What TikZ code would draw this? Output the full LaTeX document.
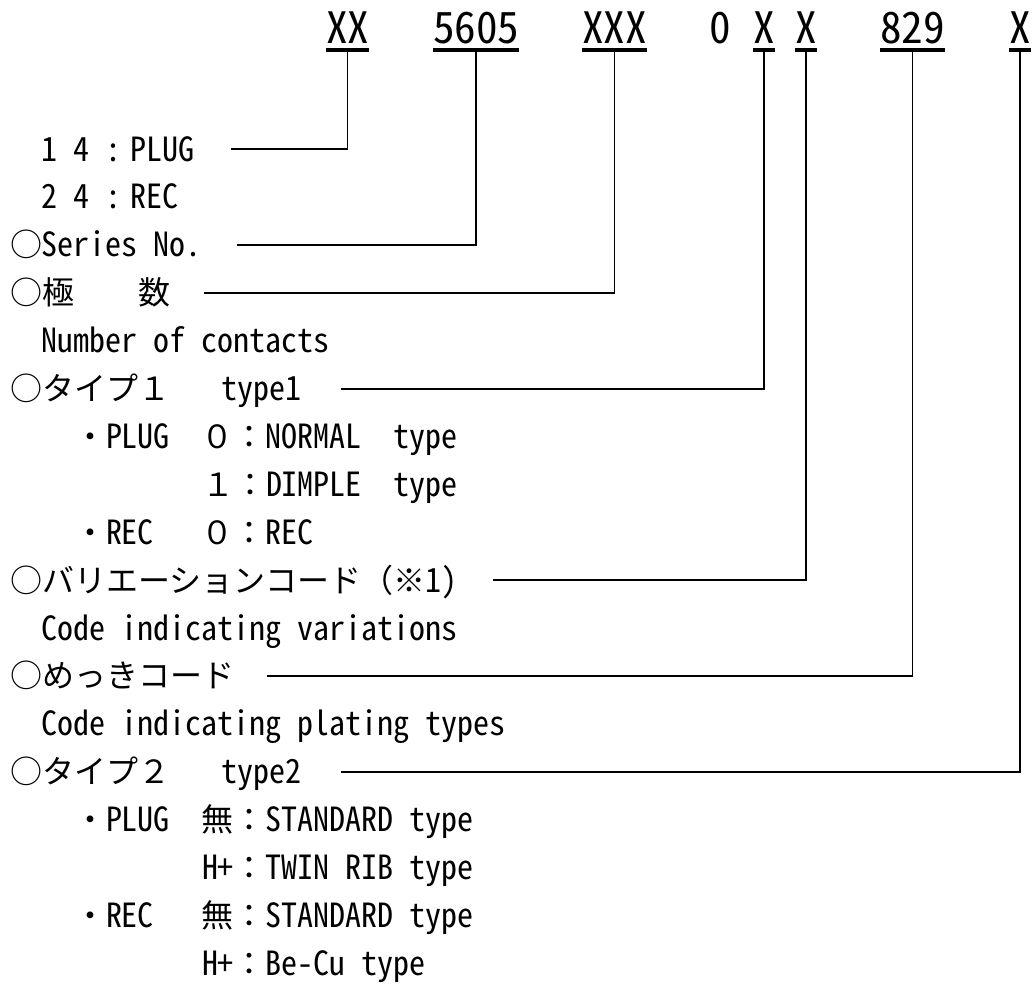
\documentclass[tikz,border=0pt]{standalone}
\usepackage{fontspec}
\usetikzlibrary{calc}
\newfontfamily\jf{Noto Sans CJK JP}
\newfontfamily\hf{Noto Sans CJK JP}[RawFeature=+hwid]
\newfontfamily\hfb{Noto Sans CJK JP}[RawFeature=+hwid, FakeStretch=0.96]
\newcommand\J[1]{{\fontsize{32pt}{32pt}\selectfont\jf #1}}
\newcommand\bodyfont{\fontsize{33.3pt}{33.3pt}\selectfont\hfb\spaceskip=16pt\relax}
\newcommand\codefont{\fontsize{43.2pt}{43.2pt}\selectfont\hf}
\newcommand\hc[1]{\hspace*{#1\dimexpr 16pt\relax}}
\tikzset{
  rowtext/.style={anchor=base west, inner sep=0pt, outer sep=0pt, font=\bodyfont},
  codetext/.style={anchor=base west, inner sep=0pt, outer sep=0pt, font=\codefont, text depth=0pt},
  lead/.style={line width=1.6pt, black},
  uline/.style={line width=3.2pt, black},
}
\begin{document}
\begin{tikzpicture}[x=1pt,y=-1pt]
\useasboundingbox (0,0) rectangle (1033,985);
\fill[white] (0,0) rectangle (1033,985);

% top code row
\node[codetext] (c1) at (326,43) {XX};
\node[codetext] (c2) at (433,43) {5605};
\node[codetext] (c3) at (582,43) {XXX};
\node[codetext] (c0) at (709,43) {0};
\node[codetext] (c4) at (753,43) {X};
\node[codetext] (c5) at (795,43) {X};
\node[codetext] (c6) at (880,43) {829};
\node[codetext] (c7) at (1009,43) {X};
\foreach \c in {c1,c2,c3,c4,c5,c6,c7}{
  \draw[uline] ([yshift=-7pt]\c.south west) -- ([yshift=-7pt]\c.south east);
}

% description rows
\node[rowtext] (r1) at (10,161) {\hc{2}1\hc{1}4\hc{1}:\hspace*{9pt}PLUG};
\node[rowtext] (r2) at (10,208.9) {\hc{2}2\hc{1}4\hc{1}:\hspace*{9pt}REC};
\node[rowtext] (r3) at (10,256.8) {\J{○}Series No.};
\node[rowtext] (r4) at (10,304.7) {\J{○極　　数}};
\node[rowtext] (r5) at (10,352.6) {\hc{2}Number of contacts};
\node[rowtext] (r6) at (10,400.5) {\J{○タイプ１}\hc{3.2}type1};
\node[rowtext] (r7) at (10,448.4) {\J{　　・}PLUG\J{　０：}NORMAL\hc{2}type};
\node[rowtext] (r8) at (10,496.3) {\J{　　　　　　１：}DIMPLE\hc{2}type};
\node[rowtext] (r9) at (10,544.2) {\J{　　・}REC\hc{3}\J{０：}REC};
\node[rowtext] (r10) at (10,592.1) {\J{○バリエーションコード（※}1)};
\node[rowtext] (r11) at (10,640) {\hc{2}Code indicating variations};
\node[rowtext] (r12) at (10,687.9) {\J{○めっきコード}};
\node[rowtext] (r13) at (10,735.8) {\hc{2}Code indicating plating types};
\node[rowtext] (r14) at (10,783.7) {\J{○タイプ２}\hc{3.2}type2};
\node[rowtext] (r15) at (10,831.6) {\J{　　・}PLUG\J{　無：}STANDARD type};
\node[rowtext] (r16) at (10,879.5) {\J{　　　　　　}H+\J{：}TWIN RIB type};
\node[rowtext] (r17) at (10,927.4) {\J{　　・}REC\hc{3}\J{無：}STANDARD type};
\node[rowtext] (r18) at (10,975.3) {\J{　　　　　　}H+\J{：}Be-Cu type};

% leader start points
\coordinate (l1) at (231,149);
\coordinate (l3) at (237,245);
\coordinate (l4) at (204,293);
\coordinate (l6) at (341,389);
\coordinate (l10) at (493,580);
\coordinate (l12) at (267,676);
\coordinate (l14) at (341,772);

\draw[lead] (l1) -| ([yshift=-7pt]c1.south);
\draw[lead] (l3) -| ([yshift=-7pt]c2.south);
\draw[lead] (l4) -| ([yshift=-7pt]c3.south);
\draw[lead] (l6) -| ([yshift=-7pt]c4.south);
\draw[lead] (l10) -| ([yshift=-7pt]c5.south);
\draw[lead] (l12) -| ([yshift=-7pt]c6.south);
\draw[lead] (l14) -| ([yshift=-7pt]c7.south);
\end{tikzpicture}
\end{document}
